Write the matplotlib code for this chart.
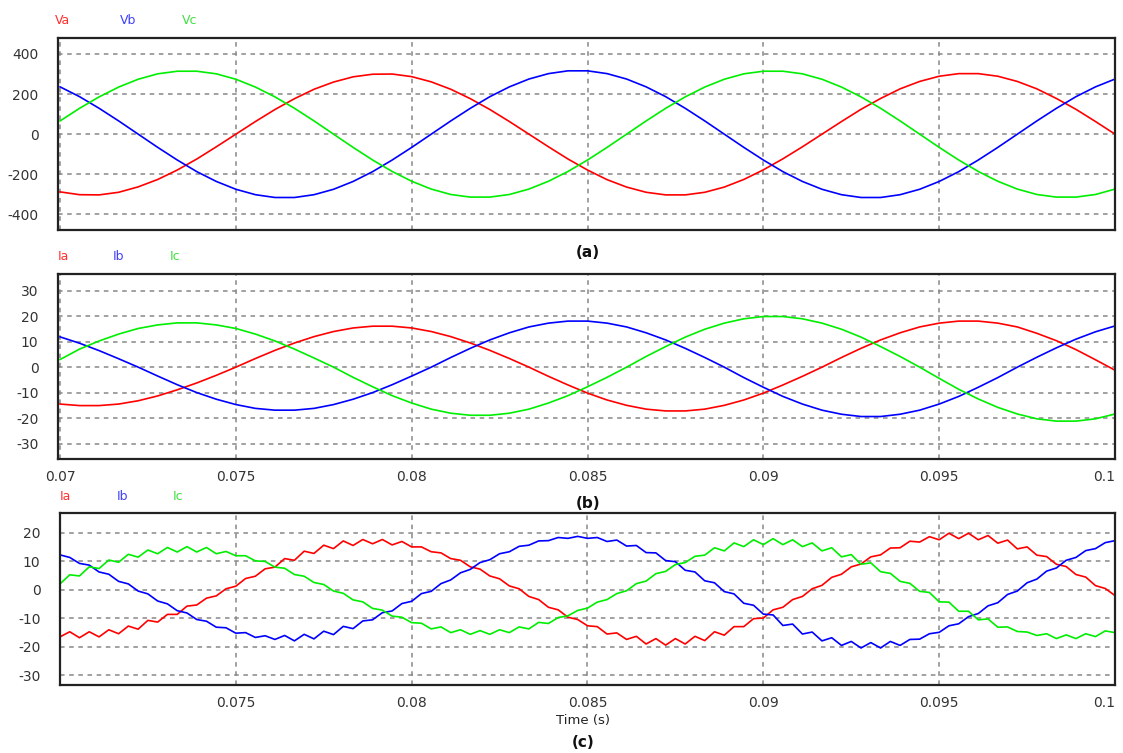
import numpy as np
import matplotlib
matplotlib.use("Agg")
import matplotlib.pyplot as plt

plt.rcParams['font.family'] = ['DejaVu Sans']

# sample instants (s)
t_ab = np.linspace(0.07, 0.1, 55)
t_c = np.linspace(0.07, 0.1, 109)

# (a) phase voltages
va = [-288, -302, -303, -290, -263, -226, -179, -124, -63, 0,
      63, 123, 177, 224, 260, 286, 299, 300, 287, 261,
      224, 177, 123, 63, 0, -63, -124, -179, -227, -264,
      -290, -303, -303, -290, -264, -226, -178, -123, -63, 0,
      63, 124, 178, 226, 263, 289, 302, 302, 289, 263,
      226, 178, 124, 63, 0]
vb = [236, 187, 129, 66, 0, -66, -129, -187, -236, -275,
      -302, -316, -316, -302, -275, -236, -187, -129, -66, 0,
      66, 129, 187, 236, 275, 302, 316, 316, 302, 275,
      236, 187, 129, 66, 0, -66, -129, -187, -236, -275,
      -302, -316, -316, -302, -275, -236, -187, -129, -66, 0,
      66, 129, 187, 236, 275]
vc = [66, 129, 186, 235, 274, 301, 314, 314, 301, 274,
      235, 186, 129, 66, 0, -66, -129, -186, -235, -274,
      -301, -314, -314, -301, -274, -235, -186, -129, -66, 0,
      66, 129, 186, 235, 274, 301, 314, 314, 301, 274,
      235, 186, 129, 66, 0, -66, -129, -186, -235, -274,
      -301, -314, -314, -301, -274]

# (b) currents
ia_b = [-14.5, -15.1, -15.1, -14.5, -13.2, -11.3, -8.9, -6.2, -3.2, 0,
        3.4, 6.6, 9.5, 12.0, 14.0, 15.4, 16.1, 16.1, 15.4, 14.0,
        12.0, 9.5, 6.6, 3.4, 0, -3.6, -7.0, -10.2, -12.9, -15.0,
        -16.5, -17.2, -17.2, -16.5, -15.0, -12.9, -10.2, -7.0, -3.6, 0,
        3.8, 7.4, 10.7, 13.5, 15.8, 17.3, 18.1, 18.1, 17.3, 15.8,
        13.3, 10.4, 6.9, 2.9, -1.2]
ib_b = [11.9, 9.4, 6.5, 3.3, 0, -3.5, -6.9, -10.0, -12.6, -14.7,
        -16.2, -16.9, -16.9, -16.2, -14.7, -12.6, -10.0, -6.9, -3.5, 0,
        3.8, 7.4, 10.7, 13.5, 15.8, 17.3, 18.1, 18.1, 17.3, 15.8,
        13.5, 10.7, 7.4, 3.8, 0, -4.1, -7.9, -11.5, -14.5, -16.9,
        -18.5, -19.4, -19.4, -18.5, -16.9, -14.5, -11.5, -7.9, -4.1, 0,
        3.9, 7.6, 11.0, 13.9, 16.2]
ic_b = [3.0, 7.1, 10.3, 13.0, 15.2, 16.6, 17.4, 17.4, 16.6, 15.2,
        13.0, 10.3, 7.1, 3.6, 0, -4.0, -7.7, -11.2, -14.1, -16.5,
        -18.1, -18.9, -18.9, -18.1, -16.5, -14.1, -11.2, -7.7, -4.0, 0,
        4.2, 8.1, 11.8, 14.9, 17.3, 19.0, 19.9, 19.9, 19.0, 17.3,
        14.9, 11.8, 8.1, 4.2, 0, -4.4, -8.7, -12.5, -15.8, -18.4,
        -20.3, -21.2, -21.2, -20.3, -18.4]

# (c) currents with ripple
ia_c = [-16.5, -14.7, -16.8, -14.7, -16.5, -14.0, -15.4, -12.7, -13.8, -10.7,
        -11.3, -8.6, -8.6, -5.7, -5.3, -2.9, -2.1, 0.4,
        1.3, 4.0, 4.8, 7.4, 8.0, 11.0, 10.4, 13.6, 12.8, 15.7,
        14.5, 17.2, 15.6, 17.7, 16.2, 17.7, 15.8, 17.0, 15.1, 15.1,
        13.4, 13.0, 11.0, 10.4, 8.1, 7.3, 4.9, 3.9, 1.4, 0.4,
        -2.3, -3.4, -6.1, -7.0, -9.6, -10.4, -12.6, -12.9, -15.5, -15.1,
        -17.4, -16.3, -19.0, -17.1, -19.4, -17.1, -19.0, -16.3, -17.8, -14.7,
        -15.9, -12.9, -12.9, -10.1, -9.9, -7.0, -6.1, -3.4, -2.3, 0.4,
        1.6, 4.4, 5.5, 8.1, 9.1, 11.6, 12.3, 14.7, 14.8, 17.1,
        16.8, 18.7, 17.6, 19.9, 18.0, 19.9, 17.6, 19.1, 16.4, 17.5,
        14.4, 15.1, 12.2, 11.7, 9.0, 8.2, 5.4, 4.5, 1.5, 0.5, -2.0]
ib_c = [12.3, 11.4, 9.3, 8.7, 6.3, 5.5, 3.0, 2.1, -0.4,
        -1.4, -3.9, -4.9, -7.3, -8.1, -10.4, -11.0, -13.1, -13.3, -15.2,
        -15.0, -16.7, -16.1, -17.4, -16.0, -17.9, -15.6, -17.2, -14.5, -15.7,
        -12.8, -13.6, -10.9, -10.5, -8.0, -7.4, -4.8, -4.0, -1.3, -0.5,
        2.2, 3.5, 6.0, 7.2, 9.6, 10.6, 12.7, 13.4, 15.3, 15.7,
        17.2, 17.3, 18.4, 18.1, 18.8, 18.1, 18.4, 17.0, 17.5, 15.4,
        15.6, 13.1, 13.0, 10.3, 9.9, 6.9, 6.3, 3.2, 2.5, -0.6,
        -1.4, -4.7, -5.4, -8.5, -8.8, -12.5, -12.0, -15.5, -14.8, -17.9,
        -16.8, -19.5, -18.1, -20.4, -18.5, -20.4, -18.1, -19.5, -17.4, -17.3,
        -15.4, -14.9, -12.6, -11.9, -9.4, -8.3, -5.6, -4.5, -1.6, -0.4,
        2.5, 3.8, 6.6, 7.7, 10.4, 11.4, 13.8, 14.5, 16.6, 17.3]
ic_c = [2.1, 5.3, 4.9, 8.1, 7.5, 10.5, 9.7, 12.5, 11.5, 14.0,
        12.7, 14.9, 13.3, 15.2, 13.3, 14.9, 12.7, 13.5, 12.0, 12.0,
        10.2, 10.0, 8.0, 7.6, 5.4, 4.8, 2.6, 1.9, -0.4,
        -1.2, -3.5, -4.2, -6.5, -7.1, -9.2, -9.6, -11.5, -11.7, -13.7,
        -13.0, -15.0, -14.0, -15.6, -14.3, -15.6, -14.0, -15.0, -13.0, -13.7,
        -11.4, -11.8, -9.7, -9.1, -7.2, -6.4, -4.3, -3.4, -1.3, -0.3,
        2.2, 3.1, 5.7, 6.5, 8.9, 9.6, 11.8, 12.2, 14.8, 13.7,
        16.5, 15.2, 17.6, 15.9, 18.0, 15.9, 17.6, 15.2, 16.5, 13.7,
        14.8, 11.6, 12.4, 9.0, 9.5, 6.4, 5.8, 3.0, 2.3, -0.5,
        -0.9, -4.2, -4.3, -7.5, -7.5, -10.5, -10.2, -13.1, -13.0, -14.6,
        -14.8, -16.0, -15.4, -17.1, -15.8, -17.1, -15.4, -16.4, -14.4, -15.0]

xticks = [0.07, 0.075, 0.08, 0.085, 0.09, 0.095, 0.1]
xticklabels = ['0.07', '0.075', '0.08', '0.085', '0.09', '0.095', '0.1']
yticks_a = [-400, -200, 0, 200, 400]
yticks_b = [-30, -20, -10, 0, 10, 20, 30]
yticks_c = [-30, -20, -10, 0, 10, 20]

RED, BLUE, GREEN = '#ff0000', '#0000ff', '#00ee00'
LW = 1.2

fig = plt.figure(figsize=(11.23, 7.53), dpi=100)


def style(ax, yticks, ylim, xt, xl, xlim):
    ax.set_xlim(xlim)
    ax.set_ylim(ylim)
    ax.set_yticks(yticks)
    ax.set_yticklabels([str(v) for v in yticks])
    ax.set_xticks(xt)
    ax.set_xticklabels(xl)
    ax.tick_params(axis='y', length=0, labelsize=10, labelcolor='#333333', pad=14)
    ax.tick_params(axis='x', length=0, labelsize=10, labelcolor='#333333', pad=8)
    ax.grid(True, color='#888888', linestyle=(0, (3, 3)), linewidth=1.1)
    for s in ax.spines.values():
        s.set_linewidth(1.6)
        s.set_color('#222222')
    # last label sits inside the right edge, as in the original
    labels = ax.get_xticklabels()
    if labels:
        labels[-1].set_horizontalalignment('right')


ax1 = fig.add_axes([0.0516, 0.6946, 0.9413, 0.2550])
ax1.plot(t_ab, va, color=RED, lw=LW)
ax1.plot(t_ab, vb, color=BLUE, lw=LW)
ax1.plot(t_ab, vc, color=GREEN, lw=LW)
style(ax1, yticks_a, (-478, 480), xticks, [''] * len(xticks), (0.06994, 0.1))

ax2 = fig.add_axes([0.0516, 0.3904, 0.9413, 0.2457])
ax2.plot(t_ab, ia_b, color=RED, lw=LW)
ax2.plot(t_ab, ib_b, color=BLUE, lw=LW)
ax2.plot(t_ab, ic_b, color=GREEN, lw=LW)
style(ax2, yticks_b, (-36.1, 36.6), xticks, xticklabels, (0.06994, 0.1))

ax3 = fig.add_axes([0.0534, 0.0903, 0.9395, 0.2284])
ax3.plot(t_c, ia_c, color=RED, lw=LW)
ax3.plot(t_c, ib_c, color=BLUE, lw=LW)
ax3.plot(t_c, ic_c, color=GREEN, lw=LW)
style(ax3, yticks_c, (-33.4, 27.0), xticks[1:], xticklabels[1:], (0.07, 0.1))

# channel names above each panel
lbl = dict(fontsize=9, va='center', ha='left')
fig.text(0.049, 0.9725, 'Va', color='#ff3030', **lbl)
fig.text(0.1069, 0.9725, 'Vb', color='#4040ff', **lbl)
fig.text(0.162, 0.9725, 'Vc', color='#40e040', **lbl)
for y in (0.6587, 0.3413):
    fig.text(0.0515 if y > 0.5 else 0.0534, y, 'Ia', color='#ff3030', **lbl)
    fig.text(0.1006 if y > 0.5 else 0.1042, y, 'Ib', color='#4040ff', **lbl)
    fig.text(0.1514 if y > 0.5 else 0.154, y, 'Ic', color='#40e040', **lbl)

cap = dict(fontsize=11, fontweight='bold', ha='center', va='center', color='#111111')
fig.text(0.5236, 0.6653, '(a)', **cap)
fig.text(0.5236, 0.332, '(b)', **cap)
fig.text(0.519, 0.0146, '(c)', **cap)
fig.text(0.519, 0.0438, 'Time (s)', fontsize=9.5, ha='center', va='center', color='#222222')

fig.savefig('out.png', dpi=100)
